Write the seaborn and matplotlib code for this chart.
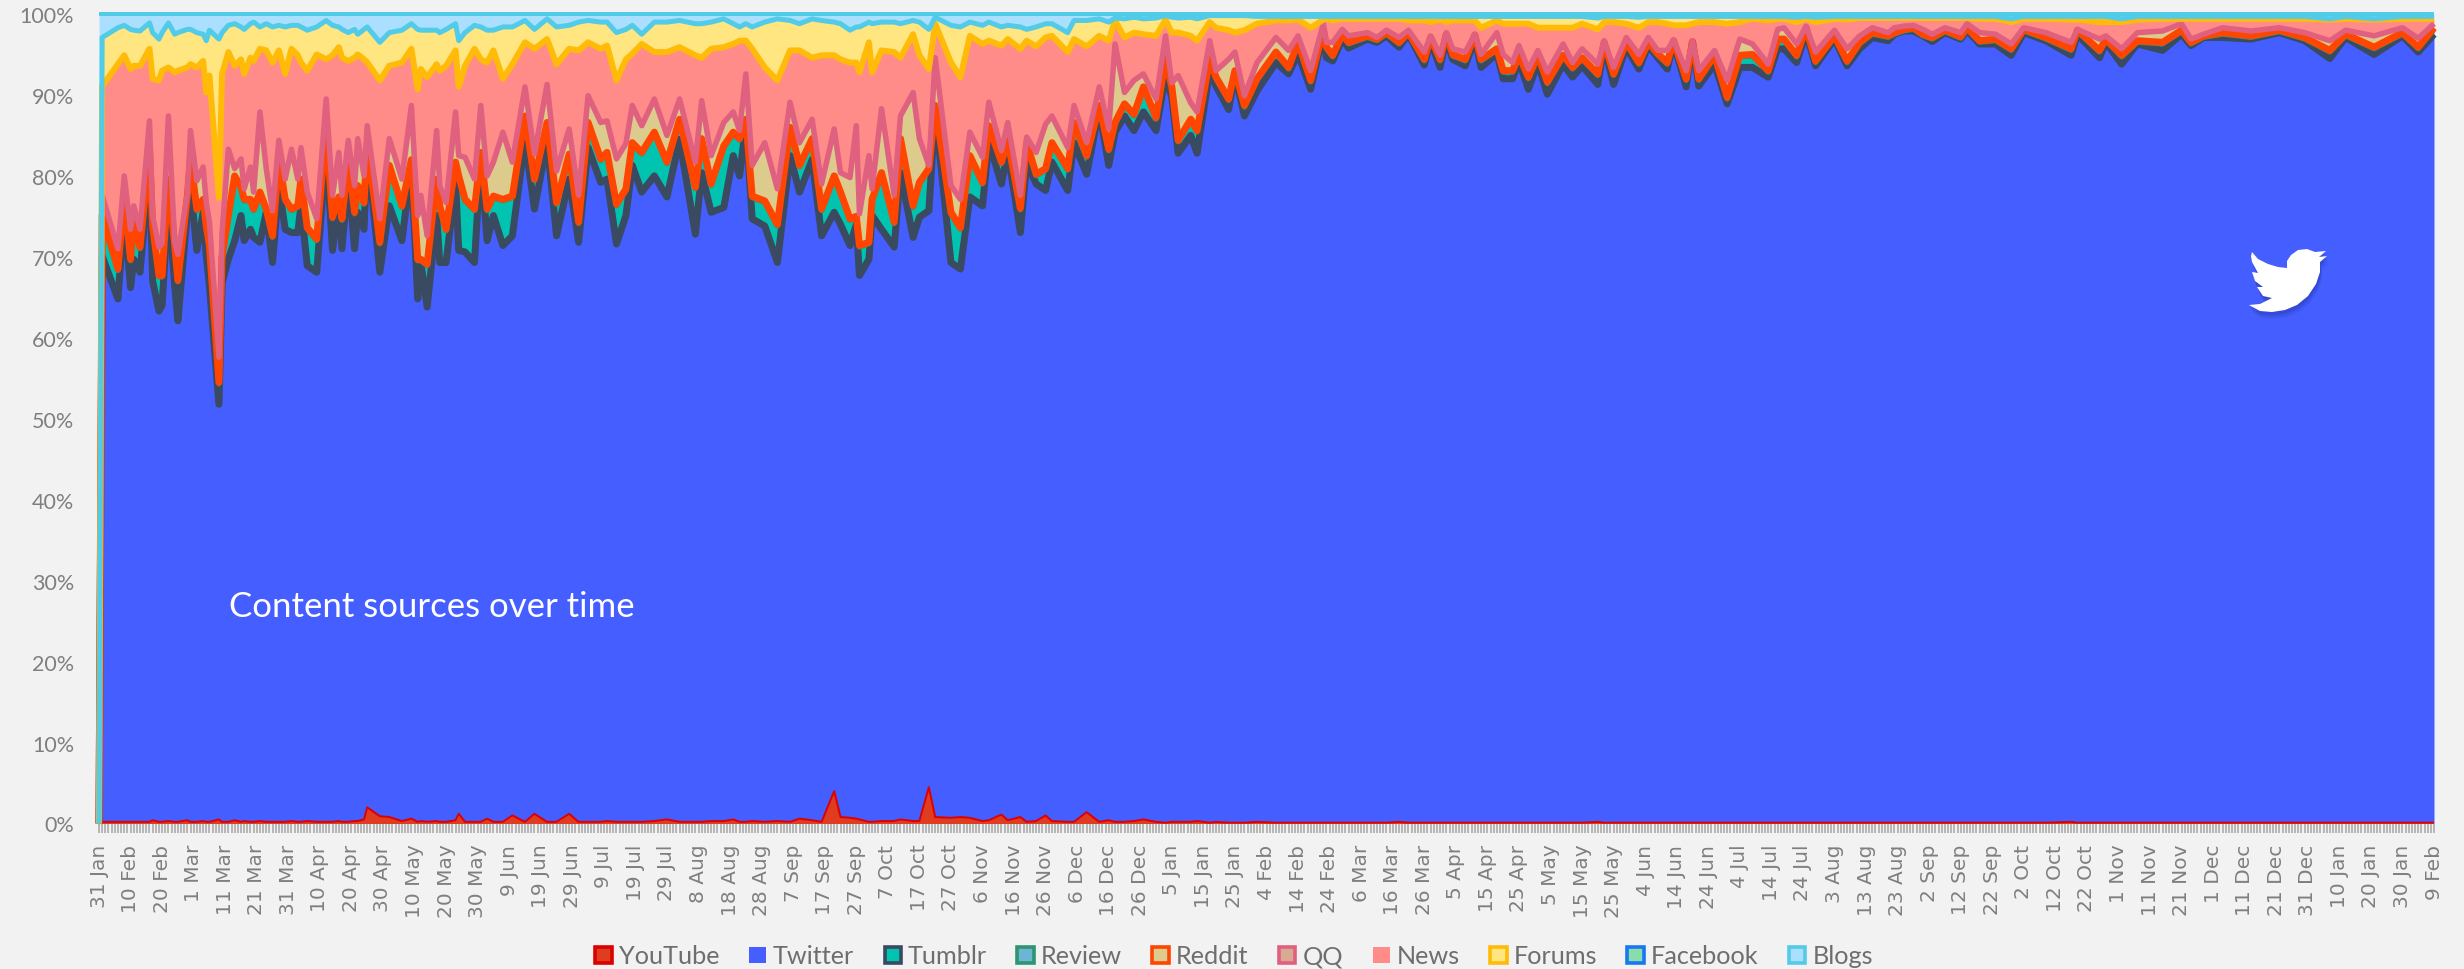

import matplotlib
matplotlib.use("Agg")
import matplotlib.pyplot as plt
import numpy as np
import pandas as pd
import seaborn as sns
from matplotlib.patches import Patch, PathPatch
from matplotlib.path import Path
from matplotlib.ticker import FuncFormatter, MultipleLocator
from matplotlib.transforms import IdentityTransform

sources = ["YouTube", "Twitter", "Tumblr", "Review", "Reddit", "QQ", "News", "Forums", "Facebook", "Blogs"]

tick_labels = [
    "31 Jan", "10 Feb", "20 Feb", "1 Mar", "11 Mar", "21 Mar", "31 Mar", "10 Apr", "20 Apr", "30 Apr",
    "10 May", "20 May", "30 May", "9 Jun", "19 Jun", "29 Jun", "9 Jul", "19 Jul", "29 Jul", "8 Aug",
    "18 Aug", "28 Aug", "7 Sep", "17 Sep", "27 Sep", "7 Oct", "17 Oct", "27 Oct", "6 Nov", "16 Nov",
    "26 Nov", "6 Dec", "16 Dec", "26 Dec", "5 Jan", "15 Jan", "25 Jan", "4 Feb", "14 Feb", "24 Feb",
    "6 Mar", "16 Mar", "26 Mar", "5 Apr", "15 Apr", "25 Apr", "5 May", "15 May", "25 May", "4 Jun",
    "14 Jun", "24 Jun", "4 Jul", "14 Jul", "24 Jul", "3 Aug", "13 Aug", "23 Aug", "2 Sep", "12 Sep",
    "22 Sep", "2 Oct", "12 Oct", "22 Oct", "1 Nov", "11 Nov", "21 Nov", "1 Dec", "11 Dec", "21 Dec",
    "31 Dec", "10 Jan", "20 Jan", "30 Jan", "9 Feb",
]

# days since 31 Jan where the outlines turn
days = [
    0,
    1, 6, 8, 10, 11, 13, 16, 17, 19, 20,
    22, 24, 25, 28, 29, 31, 33, 34, 35, 38,
    39, 41, 43, 45, 46, 48, 49, 51, 53, 55,
    57, 59, 61, 63, 64, 66, 69, 72, 74, 76,
    77, 79, 81, 82, 84, 85, 89, 92, 96, 99,
    101, 102, 104, 107, 108, 110, 113, 114, 116, 119,
    121, 123, 125, 128, 131, 135, 138, 142, 145, 149,
    152, 155, 159, 161, 164, 167, 169, 172, 176, 180,
    184, 189, 191, 194, 198, 201, 203, 205, 207, 211,
    215, 219, 222, 226, 229, 233, 235, 238, 240, 241,
    244, 245, 248, 252, 254, 258, 260, 263, 265, 270,
    273, 276, 280, 282, 286, 288, 292, 294, 297, 300,
    302, 307, 309, 313, 317, 320, 322, 325, 328, 331,
    335, 338, 340, 342, 346, 348, 352, 354, 358, 360,
    363, 367, 373, 377, 380, 384, 388, 389, 391, 394,
    396, 402, 405, 408, 412, 415, 420, 422, 425, 427,
    429, 433, 436, 438, 443, 445, 448, 450, 453, 456,
    459, 464, 467, 470, 475, 477, 480, 484, 488, 491,
    494, 497, 499, 503, 505, 507, 512, 516, 520, 524,
    529, 532, 534, 538, 541, 544, 550, 554, 558, 562,
    567, 569, 572, 575, 578, 581, 585, 590, 592, 596,
    601, 606, 610, 617, 625, 627, 634, 636, 641, 646,
    654, 660, 663, 667, 673, 682, 691, 699, 707, 712,
    721, 730, 735, 740,
]

# cumulative percent at the top of each band
youtube_top = [
    0,
    .2, .2, .2, .2, .2, .2, .2, .4, .2, .2,
    .3, .2, .2, .4, .2, .2, .3, .2, .2, .5,
    .2, .2, .4, .2, .3, .2, .2, .3, .2, .2,
    .2, .2, .3, .2, .2, .3, .2, .2, .2, .3,
    .2, .2, .3, .3, .5, 2.0, .9, .8, .3, .6,
    .2, .3, .2, .3, .2, .2, .4, 1.2, .2, .2,
    .2, .6, .2, .2, 1.0, .2, 1.2, .2, .2, 1.2,
    .2, .2, .2, .3, .2, .2, .2, .2, .3, .5,
    .2, .2, .2, .3, .3, .5, .2, .2, .3, .2,
    .3, .2, .6, .4, .2, 4.0, .8, .7, .6, .5,
    .2, .2, .3, .3, .5, .3, .3, 4.5, .8, .7,
    .8, .7, .3, .4, 1.1, .4, .8, .2, .3, 1.0,
    .3, .2, .2, 1.4, .2, .4, .2, .2, .3, .5,
    .2, .1, .2, .2, .2, .3, .1, .2, .1, .1,
    .1, .2, .1, .1, .1, .1, .1, .1, .1, .1,
    .1, .1, .1, .1, .2, .1, .1, .1, .1, .1,
    .1, .1, .1, .1, .1, .1, .1, .1, .1, .1,
    .1, .1, .1, .1, .2, .1, .1, .1, .1, .1,
    .1, .1, .1, .1, .1, .1, .1, .1, .1, .1,
    .1, .1, .1, .1, .1, .1, .1, .1, .1, .1,
    .1, .1, .1, .1, .1, .1, .1, .1, .1, .1,
    .1, .1, .1, .1, .2, .1, .1, .1, .1, .1,
    .1, .1, .1, .1, .1, .1, .1, .1, .1, .1,
    .1, .1, .1, .1,
]

twitter_top = [
    0,
    70.1, 64.8, 75.5, 66.2, 69.7, 68.1, 81.3, 67.0, 63.3, 64.0,
    77.1, 66.4, 62.1, 75.5, 78.8, 70.8, 75.5, 70.1, 66.4, 51.8,
    66.8, 69.7, 72.0, 75.1, 72.0, 73.4, 72.4, 71.8, 75.5, 69.3,
    78.8, 73.4, 73.0, 73.0, 76.3, 68.9, 68.1, 83.3, 70.8, 77.1,
    71.0, 80.0, 71.0, 75.5, 73.4, 83.3, 68.1, 76.3, 72.0, 81.3,
    64.8, 69.3, 63.8, 75.1, 69.3, 69.3, 79.2, 70.8, 70.6, 69.3,
    82.5, 72.0, 75.1, 71.4, 72.6, 84.5, 75.9, 84.2, 72.6, 79.6,
    71.8, 83.5, 79.2, 79.6, 71.6, 75.1, 81.3, 78.0, 80.0, 77.4,
    84.5, 72.8, 80.4, 75.5, 76.1, 82.5, 80.0, 86.4, 74.7, 73.8,
    69.3, 82.5, 78.0, 82.0, 72.6, 75.5, 74.0, 71.4, 74.0, 67.7,
    69.7, 75.1, 73.4, 71.2, 80.4, 72.4, 74.9, 75.7, 88.1, 69.3,
    68.5, 77.4, 76.3, 84.2, 79.0, 83.0, 73.0, 81.7, 79.0, 78.2,
    81.7, 78.2, 84.1, 80.2, 88.2, 81.3, 85.4, 87.4, 85.6, 87.9,
    85.6, 92.4, 89.7, 82.8, 85.0, 82.8, 93.0, 91.1, 88.2, 92.6,
    87.4, 90.5, 94.0, 92.6, 95.1, 90.7, 97.7, 94.6, 94.2, 96.9,
    95.8, 96.9, 96.5, 97.3, 95.9, 97.5, 93.7, 96.7, 93.4, 97.1,
    94.4, 93.6, 96.9, 93.4, 95.1, 92.0, 92.0, 94.2, 90.7, 94.0,
    90.1, 93.8, 92.2, 93.6, 91.3, 96.1, 91.3, 95.9, 93.2, 96.1,
    94.6, 93.2, 96.5, 91.0, 96.5, 91.1, 93.8, 88.9, 93.4, 93.4,
    92.2, 95.7, 95.7, 94.0, 97.7, 93.6, 96.9, 93.6, 95.7, 97.1,
    96.7, 97.5, 97.9, 97.9, 97.3, 96.6, 97.7, 96.9, 98.0, 96.3,
    96.3, 94.9, 97.7, 96.7, 94.9, 97.5, 94.6, 96.5, 93.8, 96.3,
    95.5, 97.5, 96.1, 97.1, 97.1, 96.9, 97.7, 96.7, 94.5, 97.1,
    95.0, 97.3, 95.3, 97.5,
]

review_top = [
    0,
    75.1, 68.5, 77.5, 69.7, 74.5, 71.2, 83.3, 73.8, 67.7, 67.7,
    79.6, 71.4, 67.1, 77.5, 82.1, 75.9, 77.1, 73.8, 71.4, 54.5,
    70.0, 75.1, 80.0, 78.6, 77.1, 77.1, 75.9, 78.0, 75.9, 72.6,
    82.1, 77.1, 75.9, 76.3, 79.6, 73.6, 72.2, 86.0, 74.9, 77.4,
    74.7, 82.0, 75.5, 78.8, 76.7, 84.0, 71.8, 81.3, 76.3, 82.0,
    69.7, 69.7, 69.1, 79.6, 76.3, 73.4, 81.7, 80.0, 77.1, 75.9,
    82.9, 75.9, 77.5, 77.1, 77.5, 87.4, 79.6, 86.6, 76.7, 82.7,
    74.3, 86.6, 82.1, 82.9, 76.5, 78.4, 84.1, 82.9, 85.4, 81.7,
    87.0, 78.6, 84.6, 79.0, 83.7, 85.4, 84.6, 87.0, 77.5, 76.9,
    74.0, 86.0, 81.3, 84.6, 75.9, 80.0, 78.0, 74.7, 75.0, 71.4,
    71.8, 77.1, 80.4, 74.3, 84.6, 76.3, 79.2, 80.9, 88.7, 75.5,
    73.6, 82.5, 79.2, 86.2, 81.7, 84.4, 76.0, 84.1, 80.2, 80.9,
    84.1, 80.9, 86.6, 82.5, 88.7, 83.3, 86.6, 88.9, 87.6, 91.0,
    87.2, 94.4, 91.0, 84.4, 87.0, 85.6, 94.4, 92.2, 89.5, 93.0,
    88.7, 92.0, 95.3, 93.4, 96.5, 91.8, 98.1, 95.9, 94.9, 97.5,
    96.5, 97.3, 96.9, 97.7, 96.5, 97.7, 94.4, 97.1, 94.4, 97.5,
    95.0, 94.4, 97.4, 94.4, 95.7, 93.0, 93.0, 94.9, 92.2, 94.9,
    91.6, 94.9, 93.4, 94.6, 92.6, 96.5, 92.6, 96.5, 94.0, 96.5,
    95.1, 94.0, 96.7, 92.0, 96.6, 92.0, 94.9, 89.7, 94.9, 95.0,
    93.0, 96.9, 96.9, 94.9, 98.3, 94.2, 97.3, 94.2, 96.5, 97.7,
    97.3, 97.7, 98.1, 98.3, 97.5, 97.1, 98.0, 97.2, 98.3, 96.7,
    96.9, 95.7, 98.1, 97.1, 95.7, 98.0, 95.5, 96.9, 94.9, 96.7,
    96.5, 98.0, 96.5, 97.3, 97.7, 97.3, 98.0, 97.1, 95.5, 97.5,
    95.9, 97.7, 95.9, 98.3,
]

reddit_top = [
    0,
    77.6, 71.0, 80.0, 73.4, 76.3, 73.4, 86.8, 75.1, 71.2, 71.6,
    87.4, 71.8, 70.3, 77.8, 85.6, 79.4, 81.1, 76.7, 74.3, 57.6,
    73.0, 83.3, 80.9, 82.1, 78.4, 81.1, 78.0, 87.9, 80.9, 75.7,
    84.4, 79.6, 83.3, 79.6, 83.5, 78.0, 74.7, 89.5, 77.6, 82.9,
    77.6, 84.4, 78.8, 84.6, 80.0, 86.2, 74.7, 84.6, 79.6, 88.7,
    75.1, 77.6, 72.6, 85.6, 78.8, 76.7, 87.9, 82.5, 82.3, 79.6,
    88.7, 80.0, 81.7, 85.4, 81.7, 91.0, 82.7, 91.3, 80.6, 85.8,
    77.6, 89.9, 86.6, 86.8, 82.1, 84.0, 88.7, 86.2, 89.5, 85.0,
    89.5, 81.7, 89.3, 82.5, 86.6, 87.9, 85.6, 92.6, 81.3, 84.1,
    78.4, 89.1, 84.1, 87.0, 79.0, 85.8, 80.4, 79.8, 86.2, 75.3,
    82.5, 78.4, 88.3, 77.6, 87.4, 90.3, 84.6, 81.3, 94.6, 78.8,
    77.1, 85.4, 82.3, 89.1, 83.1, 86.6, 77.6, 84.8, 82.9, 86.4,
    87.4, 83.5, 88.7, 84.1, 91.0, 85.8, 96.3, 90.3, 91.8, 92.6,
    89.5, 97.3, 91.5, 92.4, 89.0, 87.9, 96.7, 93.0, 94.4, 95.3,
    89.9, 94.0, 97.1, 95.5, 97.3, 93.0, 98.8, 96.5, 96.5, 98.1,
    97.3, 97.7, 97.1, 98.0, 97.1, 98.0, 95.3, 97.3, 94.9, 97.7,
    95.7, 95.3, 97.5, 95.0, 97.7, 95.0, 94.0, 96.1, 93.2, 95.5,
    92.8, 96.3, 94.0, 95.7, 93.8, 96.7, 93.4, 97.1, 95.0, 97.1,
    95.5, 95.5, 96.8, 93.0, 96.7, 93.0, 95.5, 91.8, 96.9, 96.3,
    93.8, 98.1, 98.3, 96.3, 98.5, 95.3, 98.0, 95.7, 97.3, 98.3,
    97.7, 98.3, 98.5, 98.6, 98.1, 97.5, 98.3, 97.7, 98.8, 97.7,
    97.5, 96.3, 98.3, 97.7, 96.5, 98.1, 96.9, 97.3, 95.7, 97.7,
    97.9, 98.8, 96.9, 97.5, 98.3, 97.9, 98.3, 97.7, 96.7, 98.0,
    97.3, 98.3, 97.0, 98.8,
]

news_top = [
    0,
    91.1, 93.8, 94.9, 93.2, 93.6, 93.6, 95.7, 92.0, 91.8, 93.0,
    93.4, 92.8, 93.0, 93.4, 93.8, 93.4, 94.2, 90.3, 92.4, 77.3,
    92.6, 95.3, 93.6, 94.4, 92.6, 94.6, 94.2, 95.7, 95.5, 94.0,
    95.5, 92.6, 95.7, 94.9, 94.0, 93.0, 95.0, 94.4, 94.9, 95.9,
    94.6, 94.2, 94.6, 95.0, 94.4, 94.0, 91.8, 93.6, 94.0, 95.7,
    90.7, 93.2, 92.2, 93.8, 93.0, 93.6, 95.5, 91.0, 93.6, 95.7,
    94.4, 94.0, 95.5, 92.0, 93.8, 96.5, 95.7, 96.9, 93.8, 95.7,
    95.5, 96.5, 95.7, 96.1, 91.8, 94.4, 95.1, 96.3, 95.3, 95.3,
    95.9, 94.9, 94.6, 95.7, 95.9, 96.3, 96.7, 96.7, 95.7, 93.4,
    91.8, 95.5, 95.5, 94.6, 94.9, 94.9, 94.4, 94.0, 94.0, 92.8,
    96.5, 92.8, 95.5, 95.3, 94.6, 97.5, 94.9, 93.2, 98.8, 94.0,
    92.2, 97.3, 96.3, 96.7, 96.1, 96.9, 95.7, 96.7, 96.0, 97.1,
    97.3, 95.3, 96.9, 96.0, 97.3, 96.7, 99.2, 97.1, 97.7, 97.5,
    97.3, 99.3, 97.7, 97.7, 97.3, 96.7, 99.0, 98.3, 98.0, 97.7,
    98.0, 98.8, 99.2, 99.2, 99.3, 98.3, 99.3, 99.4, 99.2, 99.4,
    99.4, 99.4, 99.4, 99.4, 99.4, 99.2, 99.2, 99.0, 99.3, 99.0,
    99.2, 99.2, 99.2, 98.3, 99.2, 98.8, 98.8, 98.8, 98.8, 98.3,
    98.3, 98.3, 98.3, 98.8, 98.1, 99.0, 99.0, 98.8, 98.3, 99.0,
    99.0, 98.8, 98.6, 98.6, 98.8, 99.0, 99.0, 98.8, 99.0, 99.4,
    99.2, 99.4, 99.4, 99.0, 99.4, 99.0, 99.4, 99.3, 99.5, 99.5,
    99.5, 99.5, 99.5, 99.5, 99.5, 99.5, 99.5, 99.5, 99.5, 99.4,
    99.4, 99.0, 99.4, 99.4, 99.3, 99.3, 99.0, 99.0, 99.0, 99.3,
    99.4, 99.4, 99.4, 99.4, 99.4, 99.4, 99.4, 99.4, 99.3, 99.4,
    99.3, 99.4, 99.4, 99.4,
]

forums_top = [
    0,
    97.1, 98.3, 98.6, 98.1, 98.0, 97.9, 98.9, 97.7, 96.9, 97.7,
    98.9, 97.5, 97.7, 98.1, 98.1, 97.7, 97.5, 96.7, 98.0, 96.9,
    97.7, 98.6, 98.8, 98.4, 98.1, 98.8, 99.0, 98.4, 98.8, 98.4,
    98.6, 98.4, 98.6, 98.6, 98.4, 98.0, 98.4, 99.2, 98.6, 98.4,
    98.1, 97.7, 98.1, 97.5, 98.1, 98.4, 96.5, 97.7, 98.0, 98.8,
    98.1, 98.0, 98.0, 98.0, 97.7, 98.1, 98.8, 96.7, 97.7, 98.6,
    98.4, 98.0, 98.0, 98.4, 98.4, 99.2, 98.1, 99.4, 98.4, 98.6,
    99.0, 99.2, 99.0, 99.0, 97.7, 98.1, 98.6, 97.5, 99.0, 99.0,
    99.2, 98.8, 98.8, 99.0, 99.4, 98.8, 98.4, 98.8, 98.4, 99.0,
    99.4, 99.2, 98.8, 99.4, 99.2, 99.0, 98.8, 98.0, 98.4, 98.4,
    99.0, 98.8, 99.0, 99.0, 98.8, 99.2, 99.0, 98.1, 99.6, 98.6,
    98.4, 99.0, 98.6, 99.0, 98.4, 98.6, 98.4, 98.1, 98.4, 98.8,
    98.8, 97.7, 99.2, 99.2, 99.4, 99.0, 99.5, 99.4, 99.6, 99.4,
    99.5, 99.8, 99.6, 99.5, 99.6, 99.4, 99.8, 99.8, 99.8, 99.8,
    99.8, 99.7, 99.7, 99.7, 99.7, 99.7, 99.7, 99.7, 99.7, 99.7,
    99.7, 99.7, 99.7, 99.7, 99.7, 99.7, 99.7, 99.7, 99.7, 99.7,
    99.7, 99.7, 99.7, 99.7, 99.7, 99.7, 99.7, 99.7, 99.7, 99.7,
    99.7, 99.7, 99.7, 99.7, 99.5, 99.7, 99.7, 99.7, 99.6, 99.7,
    99.7, 99.7, 99.7, 99.7, 99.7, 99.7, 99.7, 99.7, 99.7, 99.7,
    99.7, 99.7, 99.7, 99.6, 99.7, 99.6, 99.7, 99.7, 99.7, 99.7,
    99.7, 99.7, 99.7, 99.7, 99.7, 99.7, 99.7, 99.7, 99.7, 99.7,
    99.7, 99.4, 99.7, 99.7, 99.7, 99.7, 99.7, 99.7, 99.4, 99.7,
    99.7, 99.7, 99.7, 99.7, 99.7, 99.7, 99.7, 99.7, 99.4, 99.7,
    99.4, 99.7, 99.7, 99.7,
]

# bands too thin to read day by day
tumblr_gap = 0.2
qq_share = 0.1
facebook_share = 0.05

# fill, outline (None = no outline)
fills = ["#e03c20", "#455eff", "#00c4b0", "#6cb5d5", "#dccb8c", "#d9a994", "#ff8c88", "#ffe680", "#88ddaa", "#aadfff"]
edges = ["#dd0000", None, "#3a4a60", "#2f9470", "#ff4500", "#e0607f", None, "#ffbb08", "#1877f2", "#52cbe8"]

# twitter logo outline, in picture pixels
bird_x = [2252, 2258, 2268, 2278, 2287, 2287, 2291, 2298, 2307, 2315, 2326, 2319, 2327, 2320, 2320, 2316,
          2308, 2297, 2285, 2272, 2260, 2249, 2260, 2272, 2263, 2257, 2263, 2255, 2252, 2258, 2252, 2251]
bird_y = [253, 260, 265, 268, 269, 262, 256, 251, 250, 253, 252, 258, 257, 263, 273, 285,
          297, 306, 311, 313, 312, 306, 305, 299, 297, 288, 288, 282, 273, 274, 263, 257]

WIDTH, HEIGHT = 2464, 970
GREY = "#7f7f7f"

sns.set_theme(style="white", rc={"figure.facecolor": "#f2f2f2", "axes.facecolor": "#f2f2f2"})
plt.rcParams["font.family"] = ["Lato", "DejaVu Sans"]

df = pd.DataFrame({
    "day": days,
    "youtube": youtube_top,
    "twitter": twitter_top,
    "review": review_top,
    "reddit": reddit_top,
    "news": news_top,
    "forums": forums_top,
})
df["tumblr"] = (df["review"] - tumblr_gap).clip(lower=0)
df["qq"] = np.where(df["day"] == 0, 0, df["reddit"] + qq_share)
df["facebook"] = np.where(df["day"] == 0, 0, df["forums"] + facebook_share)
df["blogs"] = 100.0

order = ["youtube", "twitter", "tumblr", "review", "reddit", "qq", "news", "forums", "facebook", "blogs"]
tops = np.maximum.accumulate(df[order].to_numpy(), axis=1)
shares = np.diff(np.column_stack([np.zeros(len(df)), tops]), axis=1)

fig = plt.figure(figsize=(WIDTH / 100, HEIGHT / 100), dpi=100)
ax = fig.add_axes([99 / WIDTH, 1 - 824.5 / HEIGHT, (2434 - 99) / WIDTH, 809.5 / HEIGHT])

ax.stackplot(df["day"], shares.T, colors=fills, linewidth=0, zorder=1)


def stroke(column, color, width_px):
    """Outline one boundary of the stack."""
    sns.lineplot(
        data=df, x="day", y=column, color=color, linewidth=width_px * 0.72, ax=ax,
        estimator=None, sort=False, legend=False, zorder=3, solid_joinstyle="round",
        solid_capstyle="butt", clip_on=False,
    )


stroke("youtube", edges[0], 2)
stroke("twitter", edges[2], 7)
stroke("tumblr", edges[3], 5)
stroke("review", edges[4], 7)
stroke("reddit", edges[5], 5.5)
stroke("news", edges[7], 6)
stroke("forums", edges[9], 5)
stroke("blogs", edges[9], 4)

ax.set_xlim(0, 740)
ax.set_ylim(0, 100)
ax.set_xlabel("")
ax.set_ylabel("")
sns.despine(ax=ax, left=True, bottom=True)

ax.xaxis.set_major_locator(MultipleLocator(10))
ax.xaxis.set_minor_locator(MultipleLocator(1))
ax.set_xticks(np.arange(len(tick_labels)) * 10)
ax.set_xticklabels(tick_labels, rotation=90, family="DejaVu Sans", fontsize=14.5, color=GREY)
ax.tick_params(axis="x", which="both", length=6.5, width=1.1, color="#a6a6a6", bottom=True, pad=8)

ax.set_yticks(np.arange(0, 101, 10))
ax.yaxis.set_major_formatter(FuncFormatter(lambda v, _: f"{v:.0f}%"))
ax.tick_params(axis="y", length=0, pad=18, labelsize=15.5, labelcolor=GREY)

fig.text(229 / WIDTH, 1 - 607 / HEIGHT, "Content sources over time", color="white", fontsize=25, va="center", ha="left")

# legend swatches: outlined ones are a fill with a thick edge
handles = [
    Patch(facecolor=f, edgecolor=e if e else f, linewidth=2.6 if e else 0, label=s)
    for f, e, s in zip(fills, edges, sources)
]
fig.legend(
    handles=handles, ncol=len(sources), loc="center", bbox_to_anchor=(1234 / WIDTH, 1 - 957 / HEIGHT),
    frameon=False, fontsize=18.2, labelcolor="#6e6e6e", handlelength=0.65, handleheight=0.6,
    handletextpad=0.28, columnspacing=1.2, borderpad=0,
)

# logo with a soft shadow under it
bird_pts = [(x, HEIGHT - y) for x, y in zip(bird_x, bird_y)]
for off, alpha in [(7, 0.10), (5, 0.14), (3, 0.18)]:
    shadow = [(x + off * 0.3, y - off) for x, y in bird_pts]
    fig.add_artist(PathPatch(Path(shadow + shadow[:1], closed=True), facecolor="#1c2a8c", edgecolor="none",
                             alpha=alpha, transform=IdentityTransform(), zorder=5))
fig.add_artist(PathPatch(Path(bird_pts + bird_pts[:1], closed=True), facecolor="white", edgecolor="none",
                         transform=IdentityTransform(), zorder=6))

fig.savefig("out.png", dpi=100, facecolor=fig.get_facecolor())
